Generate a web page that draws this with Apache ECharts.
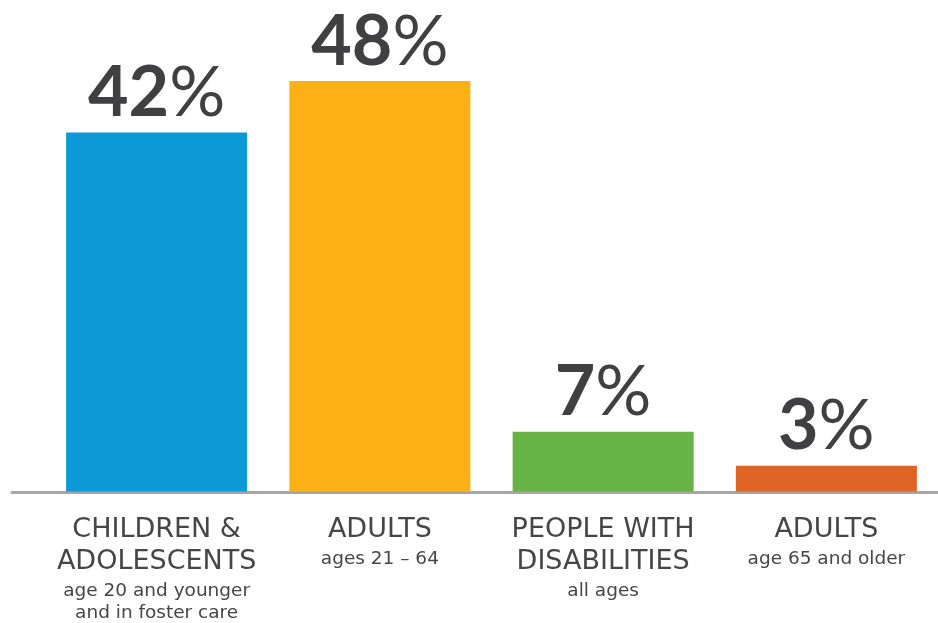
<!DOCTYPE html>
<html>
<head>
<meta charset="utf-8">
<script src="https://cdn.jsdelivr.net/npm/echarts@6/dist/echarts.min.js"></script>
<style>
  html, body { margin: 0; padding: 0; background: #fff; }
  #chart { width: 938px; height: 623px; }
</style>
</head>
<body>
<div id="chart"></div>
<script>
// chart data
var groupTitles = ['CHILDREN &\nADOLESCENTS', 'ADULTS', 'PEOPLE WITH\nDISABILITIES', 'ADULTS'];
var groupNotes = ['age 20 and younger\nand in foster care', 'ages 21 \u2013 64', 'all ages', 'age 65 and older'];
var shares = [42, 48, 7, 3];
var barColors = ['#0b9ad6', '#fbb116', '#67b346', '#de6426'];

// first note line gets its own tag so it can sit a bit lower
function noteLines(text) {
  return text.split('\n').map(function (line, i) {
    return '{' + (i === 0 ? 'f' : 's') + '|' + line + '}';
  }).join('\n');
}

function titleLines(text) {
  return text.split('\n').map(function (line) {
    return '{t|' + line + '}';
  }).join('\n');
}

var categories = groupTitles.map(function (title, i) { return i; });

var myChart = echarts.init(document.getElementById('chart')),
  option = {
    animation: false,
    grid: [
      { left: 45, right: -1, top: 64, bottom: 131 },
      { left: 12, right: 0, top: 64, bottom: 131 }
    ],
    xAxis: [{
      type: 'category',
      gridIndex: 0,
      data: categories,
      axisLine: { show: false },
      axisTick: { show: false },
      axisLabel: {
        margin: 22,
        interval: 0,
        color: '#464646',
        fontFamily: 'DejaVu Sans',
        formatter: function (value, index) {
          return titleLines(groupTitles[index]) + '\n' + noteLines(groupNotes[index]);
        },
        rich: {
          t: { fontSize: 27, lineHeight: 32, color: '#464646', fontFamily: 'DejaVu Sans' },
          f: { fontSize: 18.5, lineHeight: 21, padding: [7, 0, 0, 0], color: '#464646', fontFamily: 'DejaVu Sans' },
          s: { fontSize: 18.5, lineHeight: 30, color: '#464646', fontFamily: 'DejaVu Sans' }
        }
      }
    }, {
      type: 'value',
      gridIndex: 1,
      min: 0,
      max: 1,
      axisLine: { show: true, onZero: false, lineStyle: { color: '#a6a6a6', width: 3 } },
      axisTick: { show: false },
      axisLabel: { show: false },
      splitLine: { show: false }
    }],
    yAxis: [{
      type: 'value',
      gridIndex: 0,
      min: 0,
      max: 50,
      show: false
    }, {
      type: 'value',
      gridIndex: 1,
      min: 0,
      max: 1,
      show: false
    }],
    series: [{
      type: 'bar',
      xAxisIndex: 0,
      yAxisIndex: 0,
      barWidth: 181,
      z: 1,
      data: shares.map(function (v, i) {
        return { value: v, itemStyle: { color: barColors[i] } };
      }),
      label: {
        show: true,
        position: 'top',
        distance: 4,
        formatter: function (p) {
          return '{n|' + p.value + '}{p|%}';
        },
        rich: {
          n: { fontSize: 70, fontWeight: 'bold', fontFamily: 'Lato', color: '#404042', lineHeight: 70 },
          p: { fontSize: 70, fontWeight: 'normal', fontFamily: 'Lato', color: '#404042', lineHeight: 70 }
        }
      }
    }]
  };
myChart.setOption(option, true);
window.addEventListener('resize', function () {
  myChart.resize();
});
</script>
</body>
</html>
